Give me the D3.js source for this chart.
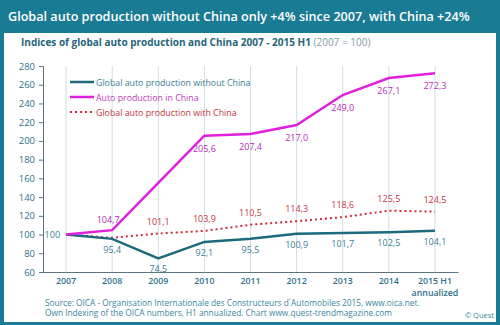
<!DOCTYPE html>
<html>
<head>
<meta charset="utf-8">
<script src="https://cdn.jsdelivr.net/npm/d3@7"></script>
<style>
  body { margin: 0; }
  svg { display: block; font-family: "Open Sans", sans-serif; }
</style>
</head>
<body>
<svg id="chart" width="500" height="325"></svg>
<script>
const years = ["2007", "2008", "2009", "2010", "2011", "2012", "2013", "2014", "2015 H1"];
const withoutChina = [100, 95.4, 74.5, 92.1, 95.5, 100.9, 101.7, 102.5, 104.1];
const china = [100, 104.7, 155.3, 205.6, 207.4, 217.0, 249.0, 267.1, 272.3];
const withChina = [100, 96.5, 101.1, 103.9, 110.5, 114.3, 118.6, 125.5, 124.5];
const yTicks = [60, 80, 100, 120, 140, 160, 180, 200, 220, 240, 260, 280];

const frame = "#1a7b94";
const tealLine = "#1d6a7c";
const magenta = "#e11fe1";
const red = "#cf2b3a";
const tickColor = "#2e6f8a";

const svg = d3.select("#chart");

svg.append("rect").attr("width", 500).attr("height", 325).attr("fill", frame);
svg.append("rect").attr("x", 4).attr("y", 33).attr("width", 492).attr("height", 289).attr("fill", "#fff");

const title = svg.append("text")
  .attr("x", 8).attr("y", 21)
  .attr("fill", "#fff")
  .style("font-size", "13px").style("font-weight", 600)
  .text("Global auto production without China only +4% since 2007, with China +24%");
// shrink to the width of the original header
const tw = title.node().getComputedTextLength();
if (tw > 462) title.style("font-size", `${(13 * 462) / tw}px`);

const sub = svg.append("text").attr("x", 21).attr("y", 46).style("font-size", "10px");
sub.append("tspan").attr("fill", "#26657a").style("font-weight", 700)
  .text("Indices of global auto production and China 2007 - 2015 H1");
sub.append("tspan").attr("fill", "#7f9aa6").text(" (2007 = 100)");

const x = d3.scalePoint().domain(years).range([43, 458]).padding(0.5);
const y = d3.scaleLinear().domain([60, 280]).range([272, 66]);

// vertical grid
svg.append("g").selectAll("line").data(years).enter().append("line")
  .attr("x1", (d) => x(d)).attr("x2", (d) => x(d))
  .attr("y1", y(280)).attr("y2", y(60))
  .attr("stroke", "#cfdfe6").attr("stroke-width", 1);

const yAxis = svg.append("g").attr("transform", "translate(43,0)")
  .call(d3.axisLeft(y).tickValues(yTicks).tickSize(4).tickPadding(4));
const xAxis = svg.append("g").attr("transform", `translate(0,${y(60)})`)
  .call(d3.axisBottom(x).tickSize(0).tickFormat(() => ""));
[yAxis, xAxis].forEach((ax) => {
  ax.select(".domain").attr("stroke", "#5d7480");
  ax.selectAll(".tick line").attr("stroke", "#5d7480");
});
yAxis.selectAll(".tick text").attr("fill", tickColor).style("font-size", "9.5px").style("font-family", "Open Sans, sans-serif");

// x labels
svg.append("g").selectAll("text").data(years).enter().append("text")
  .attr("x", (d) => x(d)).attr("y", 284)
  .attr("text-anchor", "middle").attr("fill", tickColor)
  .style("font-size", "8.8px").style("font-weight", 600)
  .text((d) => d);
svg.append("text").attr("x", x("2015 H1")).attr("y", 296)
  .attr("text-anchor", "middle").attr("fill", tickColor)
  .style("font-size", "8.8px").style("font-weight", 600)
  .text("annualized");

const line = d3.line().x((d, i) => x(years[i])).y((d) => y(d));

svg.append("path").datum(withChina).attr("d", line)
  .attr("fill", "none").attr("stroke", red).attr("stroke-width", 2)
  .attr("stroke-dasharray", "2,3");
svg.append("path").datum(withoutChina).attr("d", line)
  .attr("fill", "none").attr("stroke", tealLine).attr("stroke-width", 2.5);
svg.append("path").datum(china).attr("d", line)
  .attr("fill", "none").attr("stroke", magenta).attr("stroke-width", 2.5);

const fmt = (v) => d3.format(".1f")(v).replace(".", ",");

// value labels
const labelFont = "9px";
svg.append("text").attr("x", x("2007") - 6).attr("y", y(100) + 3.5)
  .attr("text-anchor", "end").attr("fill", "#3d7d90").style("font-size", labelFont).text("100");

svg.append("g").selectAll("text").data(withoutChina.slice(1)).enter().append("text")
  .attr("x", (d, i) => x(years[i + 1]))
  .attr("y", (d) => y(d) + 14)
  .attr("text-anchor", "middle").attr("fill", "#3d7d90").style("font-size", labelFont)
  .text((d) => fmt(d));

svg.append("g").selectAll("text").data(china.slice(3)).enter().append("text")
  .attr("x", (d, i) => x(years[i + 3]))
  .attr("y", (d) => y(d) + 16)
  .attr("text-anchor", "middle").attr("fill", "#b52fb5").style("font-size", labelFont)
  .text((d) => fmt(d));
svg.append("text").attr("x", x("2008") - 4).attr("y", y(china[1]) - 7)
  .attr("text-anchor", "middle").attr("fill", "#b52fb5").style("font-size", labelFont)
  .text(fmt(china[1]));

svg.append("g").selectAll("text").data(withChina.slice(2)).enter().append("text")
  .attr("x", (d, i) => x(years[i + 2]))
  .attr("y", (d) => y(d) - 9)
  .attr("text-anchor", "middle").attr("fill", "#c3343f").style("font-size", labelFont)
  .text((d) => fmt(d));

// legend
const legend = [
  { name: "Global auto production without China", color: tealLine, text: "#3d7d90", dash: null },
  { name: "Auto production in China", color: magenta, text: "#c03ac0", dash: null },
  { name: "Global auto production with China", color: red, text: "#c3343f", dash: "2,3" },
];
const lg = svg.append("g").selectAll("g").data(legend).enter().append("g")
  .attr("transform", (d, i) => `translate(70,${82 + i * 15})`);
lg.append("line").attr("x1", 0).attr("x2", 24)
  .attr("stroke", (d) => d.color).attr("stroke-width", (d) => (d.dash ? 2 : 2.5))
  .attr("stroke-dasharray", (d) => d.dash);
lg.append("text").attr("x", 26).attr("y", 3.5)
  .attr("fill", (d) => d.text).style("font-size", "8.8px").text((d) => d.name);

// footer
const foot = svg.append("g").attr("fill", "#3c86a2").style("font-size", "8.3px");
foot.append("text").attr("x", 45).attr("y", 306)
  .text("Source: OICA - Organisation Internationale des Constructeurs d´Automobiles 2015, www.oica.net.");
foot.append("text").attr("x", 45).attr("y", 316)
  .text("Own Indexing of the OICA numbers, H1 annualized. Chart www.quest-trendmagazine.com");
svg.append("text").attr("x", 494).attr("y", 318).attr("text-anchor", "end")
  .attr("fill", "#3c86a2").style("font-size", "7.5px").text("© Quest");
</script>
</body>
</html>
